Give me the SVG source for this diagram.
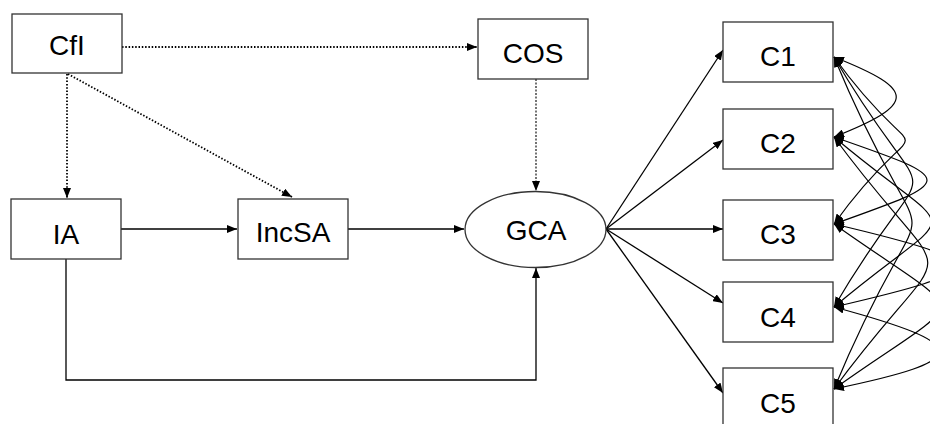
<svg xmlns="http://www.w3.org/2000/svg" width="930" height="424" viewBox="0 0 930 424">
<defs>
<marker id="ah" viewBox="0 0 10 8" refX="10" refY="4" markerWidth="10" markerHeight="8" markerUnits="userSpaceOnUse" orient="auto-start-reverse">
<path d="M0,0 L10,4 L0,8 Z" fill="#000"/>
</marker>
<style>
.box{fill:#fff;stroke:#333;stroke-width:1.3}
.lbl{font-family:"Liberation Sans",Arial,sans-serif;font-size:28px;fill:#000;text-anchor:middle}
.ln{fill:none;stroke:#000;stroke-width:1.3}
.dot{fill:none;stroke:#000;stroke-width:1.8;stroke-dasharray:1.5 1.8}
.dot2{fill:none;stroke:#000;stroke-width:1.1;stroke-dasharray:2 1.5}
.cv{fill:none;stroke:#000;stroke-width:1.2}
</style>
</defs>
<rect width="930" height="424" fill="#fff"/>
<g id="connectors">
<line class="dot" x1="122" y1="47" x2="477" y2="47" marker-end="url(#ah)"/>
<line class="dot" x1="67" y1="74" x2="67" y2="198" marker-end="url(#ah)"/>
<line class="dot" x1="68" y1="74" x2="292" y2="197" marker-end="url(#ah)"/>
<line class="dot2" x1="536" y1="79" x2="536" y2="191" marker-end="url(#ah)"/>
<line class="ln" x1="121" y1="229" x2="237" y2="229" marker-end="url(#ah)"/>
<line class="ln" x1="348" y1="229" x2="464" y2="229" marker-end="url(#ah)"/>
<path class="ln" d="M66,259 V380 H536 V268" marker-end="url(#ah)"/>
<line class="ln" x1="606" y1="229" x2="723" y2="50" marker-end="url(#ah)"/>
<line class="ln" x1="606" y1="229" x2="723" y2="140" marker-end="url(#ah)"/>
<line class="ln" x1="606" y1="229" x2="723" y2="229" marker-end="url(#ah)"/>
<line class="ln" x1="606" y1="229" x2="723" y2="303" marker-end="url(#ah)"/>
<line class="ln" x1="606" y1="229" x2="723" y2="393" marker-end="url(#ah)"/>
<path class="cv" d="M834,57 C917,90 917,104 834,137" marker-start="url(#ah)" marker-end="url(#ah)"/>
<path class="cv" d="M834,137 C958,180 958,180 834,224" marker-start="url(#ah)" marker-end="url(#ah)"/>
<path class="cv" d="M834,224 C994,262 994,270 834,307" marker-start="url(#ah)" marker-end="url(#ah)"/>
<path class="cv" d="M834,307 C974,345 974,360 834,389" marker-start="url(#ah)" marker-end="url(#ah)"/>
<path class="cv" d="M834,57 C929,189 929,92 834,224" marker-start="url(#ah)" marker-end="url(#ah)"/>
<path class="cv" d="M834,57 C939,237 939,127 834,307" marker-start="url(#ah)" marker-end="url(#ah)"/>
<path class="cv" d="M834,57 C938,307 938,139 834,389" marker-start="url(#ah)" marker-end="url(#ah)"/>
<path class="cv" d="M834,137 C964,247 964,197 834,307" marker-start="url(#ah)" marker-end="url(#ah)"/>
<path class="cv" d="M834,137 C959,307 959,219 834,389" marker-start="url(#ah)" marker-end="url(#ah)"/>
<path class="cv" d="M834,224 C974,324 974,289 834,389" marker-start="url(#ah)" marker-end="url(#ah)"/>
</g>
<g id="CfI"><rect class="box" x="12" y="14" width="110" height="59"/><text class="lbl" x="67" y="55">CfI</text></g>
<g id="COS"><rect class="box" x="478" y="19" width="110" height="60"/><text class="lbl" x="533" y="63">COS</text></g>
<g id="IA"><rect class="box" x="11" y="199" width="110" height="60"/><text class="lbl" x="66" y="244">IA</text></g>
<g id="IncSA"><rect class="box" x="238" y="199" width="110" height="60"/><text class="lbl" x="293" y="242">IncSA</text></g>
<g id="GCA"><ellipse class="box" cx="535.5" cy="229.5" rx="70.5" ry="38"/><text class="lbl" x="536" y="240">GCA</text></g>
<g id="C1"><rect class="box" x="723" y="22" width="110" height="60"/><text class="lbl" x="778" y="66">C1</text></g>
<g id="C2"><rect class="box" x="723" y="109" width="110" height="60"/><text class="lbl" x="778" y="153">C2</text></g>
<g id="C3"><rect class="box" x="723" y="200" width="110" height="60"/><text class="lbl" x="778" y="244">C3</text></g>
<g id="C4"><rect class="box" x="723" y="282" width="110" height="60"/><text class="lbl" x="778" y="327">C4</text></g>
<g id="C5"><rect class="box" x="723" y="368" width="110" height="60"/><text class="lbl" x="778" y="413">C5</text></g>
</svg>
